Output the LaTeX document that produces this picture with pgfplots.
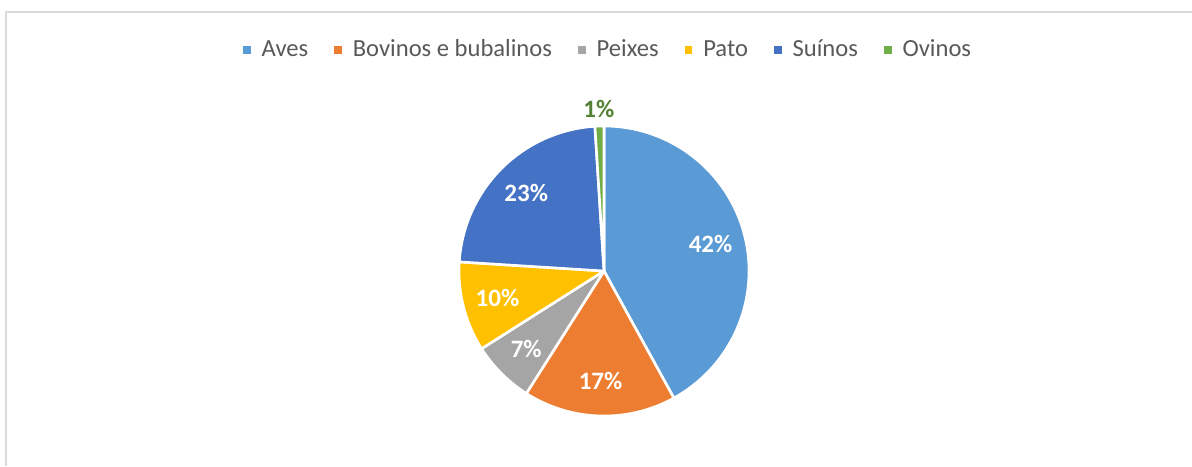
\documentclass[border=0pt]{standalone}
\usepackage{pgfplots}
\usepackage{pgfplotstable}
\usepackage{fontspec}
\setmainfont{Carlito}
\pgfplotsset{compat=1.18}

\definecolor{cAves}{HTML}{5B9BD5}
\definecolor{cBov}{HTML}{ED7D31}
\definecolor{cPei}{HTML}{A5A5A5}
\definecolor{cPat}{HTML}{FFC000}
\definecolor{cSui}{HTML}{4472C4}
\definecolor{cOvi}{HTML}{70AD47}
\definecolor{lblOvi}{HTML}{548235}
\definecolor{txt}{HTML}{595959}
\definecolor{frame}{HTML}{D9D9D9}

% share of each species, percent
\pgfplotstableread[col sep=comma]{
name,value,col
Aves,42,cAves
Bovinos e bubalinos,17,cBov
Peixes,7,cPei
Pato,10,cPat
Suínos,23,cSui
Ovinos,1,cOvi
}\piedata

\begin{document}
\begin{tikzpicture}
\begin{axis}[
    name=ax,
    scale only axis,
    width=596pt, height=233pt,
    xmin=0, xmax=1192, ymin=0, ymax=466,
    y dir=reverse,
    hide axis,
    clip=false,
    legend columns=-1,
    legend style={at={(0.511,0.893)}, anchor=center, draw=none, fill=none,
        font=\fontsize{12.3}{14}\selectfont, text=txt,
        /tikz/every odd column/.append style={column sep=3.5pt},
        /tikz/every even column/.append style={column sep=11pt}},
    legend image code/.code={\fill[#1,draw=none] (0pt,-1.9pt) rectangle (3.8pt,1.9pt);},
]
\draw[line width=1pt, color=frame] (6,466) -- (6,12) -- (1192,12);

\def\cum{0}
\pgfplotsforeachungrouped \i in {0,...,5}{
    \pgfplotstablegetelem{\i}{value}\of\piedata \edef\v{\pgfplotsretval}
    \pgfplotstablegetelem{\i}{col}\of\piedata \edef\c{\pgfplotsretval}
    \pgfplotstablegetelem{\i}{name}\of\piedata \edef\n{\pgfplotsretval}
    \pgfmathsetmacro\a{3.6*\cum}
    \pgfmathsetmacro\b{3.6*(\cum+\v)}
    \pgfmathsetmacro\m{(\a+\b)/2}
    \ifdim\v pt<3pt
        \pgfmathsetmacro\lx{604+162*sin(\m)}
        \pgfmathsetmacro\ly{271-162*cos(\m)}
        \def\lc{lblOvi}
    \else
        \pgfmathsetmacro\lx{604+110*sin(\m)}
        \pgfmathsetmacro\ly{271-110*cos(\m)}
        \def\lc{white}
    \fi
    \edef\cmd{%
        \noexpand\addplot[fill=\c, draw=white, line width=1.3pt, line join=round,
            domain=\a:\b, samples=90]
            ({604+145*sin(x)}, {271-145*cos(x)}) -- (604,271) -- cycle;
        \noexpand\addlegendentry{\n}
        \noexpand\node[text=\lc, font=\noexpand\fontsize{12.5}{14}\noexpand\selectfont\noexpand\bfseries]
            at (axis cs:\lx,\ly) {\v\noexpand\%};
    }
    \cmd
    \pgfmathsetmacro\cum{\cum+\v}
}
\end{axis}
\pgfresetboundingbox
\path[use as bounding box] (ax.south west) rectangle (ax.north east);
\end{tikzpicture}
\end{document}
